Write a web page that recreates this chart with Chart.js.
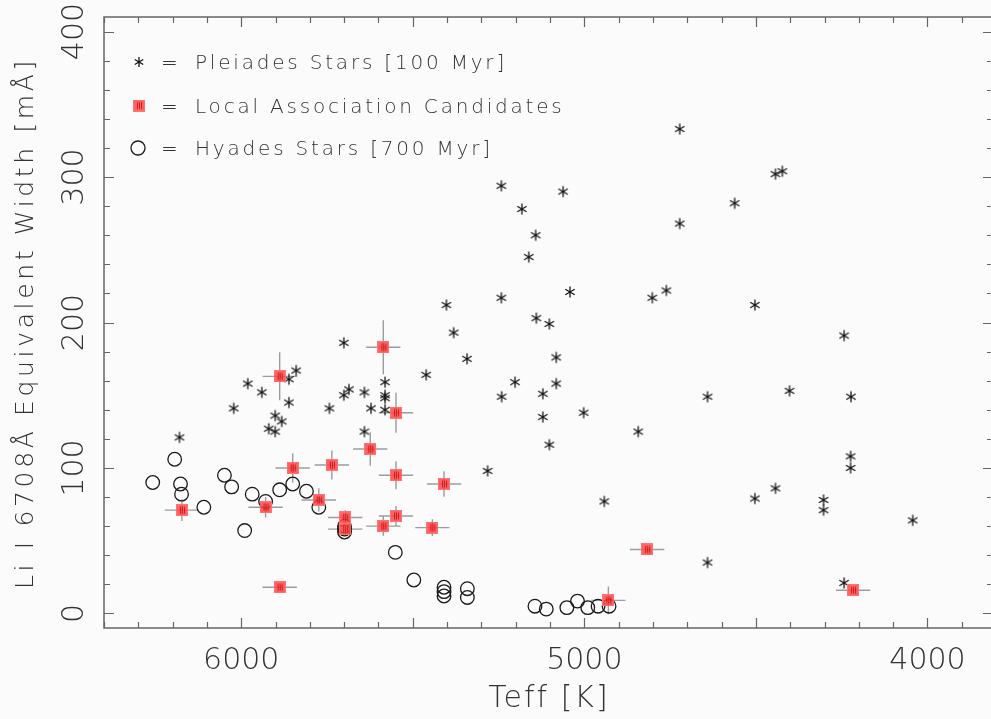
<!DOCTYPE html>
<html>
<head>
<meta charset="utf-8">
<title>Li I 6708 equivalent width vs Teff</title>
<script src="https://cdn.jsdelivr.net/npm/chart.js@4.4.1/dist/chart.umd.min.js"></script>
<style>
  html, body { margin: 0; padding: 0; background: #fbfbfb; overflow: hidden; }
  canvas { display: block; }
</style>
</head>
<body>
<canvas id="lithium-chart" width="994" height="719"></canvas>
<script>
// Pleiades stars [100 Myr]
const pleiadesTeff = [6180, 6022, 5981, 5940, 5861, 5840, 5861, 5920, 5901, 5901, 5882, 5743, 5701, 5701, 5686, 5641, 5581, 5581, 5581, 5622, 5581, 5641,
    5402, 5381, 5342, 5461, 5282, 5241, 5202, 5140, 5102, 5121, 5121, 5082, 5082, 5102, 5002, 4942, 4843,
    5242, 5062, 5182, 5142, 5162, 5242, 5042, 4802, 4761, 4722, 4722, 4562, 4503, 4443, 4423, 4243,
    4641, 4402, 4223, 4224, 4224, 4443, 4503, 4303, 4303, 4043, 4641, 4243];
const pleiadesEW = [121, 141, 158, 152, 161, 167, 145, 127, 136, 125, 132, 141, 186, 150, 154, 152, 159, 150, 148, 141, 140, 125,
    212, 193, 175, 164, 98, 149, 159, 203, 199, 151, 135, 176, 158, 116, 138, 77, 125,
    294, 290, 278, 260, 245, 217, 221, 217, 222, 333, 268, 282, 212, 302, 304, 191,
    149, 153, 149, 108, 100, 86, 79, 78, 71, 64, 35, 21];

// Hyades stars [700 Myr]
const hyadesTeff = [6258, 6194, 6177, 6174, 6109, 6049, 6028, 5990, 5968, 5929, 5888, 5850, 5810, 5774, 5699, 5699, 5699,
    5551, 5497, 5409, 5409, 5409, 5341, 5341, 5144, 5111, 5051, 5020, 4990, 4960, 4928];
const hyadesEW = [90, 106, 89, 82, 73, 95, 87, 57, 82, 77, 85, 89, 84, 73, 58, 60, 56,
    42, 23, 18, 15, 12, 17, 11, 5, 3, 4, 8.5, 4, 5, 5];

// Local association candidates, with errors
const assocTeff = [5888, 5850, 5736, 5929, 5774, 6173, 5888, 5697, 5697, 5586, 5549, 5624, 5549, 5409, 5549, 5586, 5443, 4817, 4930, 4217];
const assocEW = [163, 100, 102, 73, 78, 71, 18, 66, 58, 183, 138, 113, 95, 89, 67, 60, 59, 44, 9, 16];
const assocTeffErr = [50, 50, 50, 50, 50, 50, 50, 50, 50, 50, 50, 50, 50, 50, 50, 50, 50, 50, 50, 50];
const assocEWErr = [16.5, 10, 10, 7, 8, 7.5, 0, 5, 5, 18.6, 13.7, 11.5, 9.6, 8.7, 6.9, 6.6, 5.7, 0, 9.6, 2];

// axis ticks
const xTickLabels = [6000, 5000, 4000];
const yTickLabels = [0, 100, 200, 300, 400];

const legendLabels = ['Pleiades Stars [100 Myr]', 'Local Association Candidates', 'Hyades Stars [700 Myr]'];

const TEXT = '#333333';
const AXIS = '#666666';
const FONT = '"DejaVu Sans", sans-serif';

function makeAsterisk(r) {
    const c = document.createElement('canvas');
    c.width = 14; c.height = 14;
    const g = c.getContext('2d');
    g.strokeStyle = '#151515';
    g.lineWidth = 1.3;
    g.beginPath();
    [90, 30, -30].forEach(function (deg) {
        const a = deg * Math.PI / 180;
        g.moveTo(7 + r * Math.cos(a), 7 - r * Math.sin(a));
        g.lineTo(7 - r * Math.cos(a), 7 + r * Math.sin(a));
    });
    g.stroke();
    return c;
}

function makeSquare() {
    const c = document.createElement('canvas');
    c.width = 12; c.height = 12;
    const g = c.getContext('2d');
    g.fillStyle = 'rgba(255, 70, 70, 0.85)';
    g.fillRect(0, 0, 12, 12);
    g.strokeStyle = 'rgba(255, 120, 120, 0.9)';
    g.lineWidth = 1;
    g.strokeRect(0.5, 0.5, 11, 11);
    g.strokeStyle = 'rgba(200, 10, 10, 0.8)';
    g.beginPath();
    [4.5, 6.5, 8.5].forEach(function (x) {
        g.moveTo(x, 2.5);
        g.lineTo(x, 9.5);
    });
    g.stroke();
    return c;
}

const asterisk = makeAsterisk(5.4);
const legendAsterisk = makeAsterisk(4.9);
const square = makeSquare();

function toPoints(xs, ys) {
    return xs.map(function (x, i) { return { x: x, y: ys[i] }; });
}

// spread the letters so the text takes up the given width (the original font is a wide one)
function spacingFor(ctx, text, width) {
    ctx.letterSpacing = '0px';
    const w = ctx.measureText(text).width;
    return Math.max(0, (width - w) / text.length);
}

const errorBars = {
    id: 'errorBars',
    beforeDatasetsDraw(chart) {
        const ctx = chart.ctx;
        const x = chart.scales.x;
        const y = chart.scales.y;
        ctx.save();
        ctx.strokeStyle = 'rgba(140, 140, 140, 0.85)';
        ctx.lineWidth = 1.4;
        ctx.beginPath();
        assocTeff.forEach(function (t, i) {
            const ew = assocEW[i];
            const px = x.getPixelForValue(t);
            const py = y.getPixelForValue(ew);
            ctx.moveTo(x.getPixelForValue(t + assocTeffErr[i]), py);
            ctx.lineTo(x.getPixelForValue(t - assocTeffErr[i]), py);
            if (assocEWErr[i] > 0) {
                ctx.moveTo(px, y.getPixelForValue(ew - assocEWErr[i]));
                ctx.lineTo(px, y.getPixelForValue(ew + assocEWErr[i]));
            }
        });
        ctx.stroke();
        ctx.restore();
    }
};

const frameAndLabels = {
    id: 'frameAndLabels',
    afterDatasetsDraw(chart) {
        const ctx = chart.ctx;
        const area = chart.chartArea;
        const x = chart.scales.x;
        const y = chart.scales.y;
        ctx.save();

        // box
        ctx.strokeStyle = AXIS;
        ctx.lineWidth = 1.5;
        ctx.strokeRect(area.left, area.top, area.right - area.left, area.bottom - area.top);

        // inward ticks
        ctx.lineWidth = 1.2;
        ctx.beginPath();
        for (let t = 3900; t <= 6400; t += 100) {
            const px = Math.round(x.getPixelForValue(t)) + 0.5;
            const len = t % 500 === 0 ? 10 : 6;
            ctx.moveTo(px, area.bottom); ctx.lineTo(px, area.bottom - len);
            ctx.moveTo(px, area.top); ctx.lineTo(px, area.top + len);
        }
        for (let v = 0; v <= 400; v += 20) {
            const py = Math.round(y.getPixelForValue(v)) + 0.5;
            const len = v % 100 === 0 ? 10 : 6;
            ctx.moveTo(area.left, py); ctx.lineTo(area.left + len, py);
            ctx.moveTo(area.right, py); ctx.lineTo(area.right - len, py);
        }
        ctx.stroke();

        ctx.fillStyle = TEXT;
        ctx.font = '200 30px ' + FONT;
        ctx.textAlign = 'center';
        ctx.textBaseline = 'alphabetic';
        xTickLabels.forEach(function (t) {
            ctx.fillText(String(t), x.getPixelForValue(t), 669);
        });
        yTickLabels.forEach(function (v) {
            ctx.save();
            ctx.translate(83, y.getPixelForValue(v));
            ctx.rotate(-Math.PI / 2);
            ctx.fillText(String(v), 0, 0);
            ctx.restore();
        });

        // axis titles
        const xTitle = 'Teff [K]';
        ctx.letterSpacing = spacingFor(ctx, xTitle, 121) + 'px';
        ctx.fillText(xTitle, 549, 707);

        const yTitle = 'Li I 6708Å Equivalent Width [mÅ]';
        ctx.save();
        ctx.font = '200 25px ' + FONT;
        ctx.letterSpacing = spacingFor(ctx, yTitle, 532) + 'px';
        ctx.translate(33, 323);
        ctx.rotate(-Math.PI / 2);
        ctx.fillText(yTitle, 0, 0);
        ctx.restore();

        // legend
        ctx.font = '200 20px ' + FONT;
        ctx.letterSpacing = spacingFor(ctx, legendLabels[0], 312) + 'px';
        ctx.textAlign = 'left';
        const rows = [69, 112.5, 155];
        legendLabels.forEach(function (label, i) {
            const base = rows[i];
            const cy = base - 7;
            if (i === 0) {
                ctx.drawImage(legendAsterisk, 139 - 7, cy - 7);
            } else if (i === 1) {
                ctx.drawImage(square, 139 - 6, cy - 6);
            } else {
                ctx.strokeStyle = '#1a1a1a';
                ctx.lineWidth = 1.3;
                ctx.beginPath();
                ctx.arc(138, cy, 7, 0, Math.PI * 2);
                ctx.stroke();
            }
            ctx.fillText('=', 161, base);
            ctx.fillText(label, 195, base);
        });
        ctx.restore();
    }
};

new Chart(document.getElementById('lithium-chart'), {
    type: 'scatter',
    data: {
        datasets: [
            {
                label: 'Local Association Candidates',
                data: toPoints(assocTeff, assocEW),
                pointStyle: square,
                pointRadius: 6,
                order: 0
            },
            {
                label: 'Pleiades Stars [100 Myr]',
                data: toPoints(pleiadesTeff, pleiadesEW),
                pointStyle: asterisk,
                pointRadius: 5.5,
                order: 1
            },
            {
                label: 'Hyades Stars [700 Myr]',
                data: toPoints(hyadesTeff, hyadesEW),
                pointStyle: 'circle',
                pointRadius: 6.8,
                borderColor: '#1a1a1a',
                backgroundColor: 'rgba(0,0,0,0)',
                borderWidth: 1.3,
                order: 2
            }
        ]
    },
    options: {
        responsive: false,
        animation: false,
        layout: { autoPadding: false, padding: { left: 104, right: 1, top: 17, bottom: 91 } },
        scales: {
            x: { type: 'linear', reverse: true, min: 3809, max: 6400, display: false },
            y: { type: 'linear', min: -10, max: 410, display: false }
        },
        plugins: {
            legend: { display: false },
            tooltip: { enabled: false }
        }
    },
    plugins: [errorBars, frameAndLabels]
});
</script>
</body>
</html>
